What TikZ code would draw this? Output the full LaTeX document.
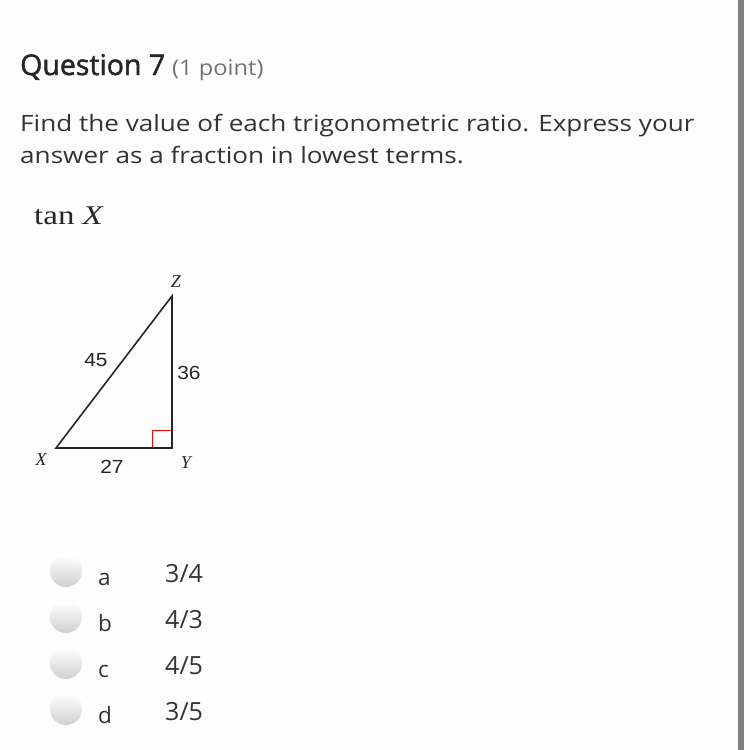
\documentclass[tikz,border=0pt]{standalone}
\usepackage{fontspec}
\setmainfont{Open Sans}
\newfontfamily\semib{Open Sans}[FakeBold=1.6]
\newfontfamily\trisans{Liberation Sans}
\newfontfamily\triserif{Liberation Serif}
\definecolor{txt}{HTML}{333333}
\definecolor{lightg}{HTML}{6F7378}
\definecolor{bar}{HTML}{808080}
\definecolor{bg}{HTML}{FDFDFD}
\definecolor{rad}{HTML}{D0D0D0}
\begin{document}
\begin{tikzpicture}[x=1pt,y=-1pt,
  ui/.style={inner sep=0pt,anchor=base west,text=txt,font=\fontsize{22.5}{22.5}\selectfont},
  tri/.style={inner sep=0pt,text=black!85,xscale=1.1,font=\trisans\fontsize{19}{19}\selectfont},
  vlab/.style={inner sep=0pt,text=black!85,font=\triserif\itshape\fontsize{18}{18}\selectfont},
  radio/.style={circle,minimum size=32pt,inner sep=0pt,top color=white,bottom color=rad,draw=none}]
\fill[bg] (0,0) rectangle (750,750);
\useasboundingbox (0,0) rectangle (750,750);
\fill[bar] (738,0) rectangle (744,750);
% header
\node[ui,font=\semib\fontsize{28.5}{28.5}\selectfont,text=black!85] (q) at (20,75) {Question 7};
\node[ui,text=lightg,xscale=1.1,font=\fontsize{21.5}{21.5}\selectfont,anchor=base west] (pt) at (172,75) {(1 point)};
\node[ui,xscale=1.16] (l1) at (20,131) {Find the value of each trigonometric ratio. Express your};
\node[ui,xscale=1.16] (l2) at (20,163) {answer as a fraction in lowest terms.};
\node[ui,text=black!85,xscale=1.22,font=\triserif\fontsize{27}{27}\selectfont] (tan) at (34,224) {tan \textit{X}};
% triangle
\coordinate (X) at (56,448);
\coordinate (Y) at (172,448);
\coordinate (Z) at (172,296);
\draw[red,line width=1pt] (152,448) -- (152,430) -- (172,430);
\draw[line width=1.6pt,line join=miter,color=black!85] (X) -- (Y) -- (Z) -- cycle;
\node[vlab] (zl) at (176,282) {Z};
\node[vlab] (xl) at (41,460) {X};
\node[vlab] (yl) at (186,463) {Y};
\node[tri] (s45) at (96,360) {45};
\node[tri] (s36) at (189,373) {36};
\node[tri] (s27) at (112,467) {27};
% answers
\foreach \i/\l/\f in {0/a/3\slash 4,1/b/4\slash 3,2/c/4\slash 5,3/d/3\slash 5}{
  \node[radio] (r\i) at (66,571+46*\i) {};
  \node[ui] (al\i) at (98,585+46*\i) {\l};
  \node[ui,font=\fontsize{25}{25}\selectfont] (af\i) at (165,582+46*\i) {\f};
}
\end{tikzpicture}
\end{document}
